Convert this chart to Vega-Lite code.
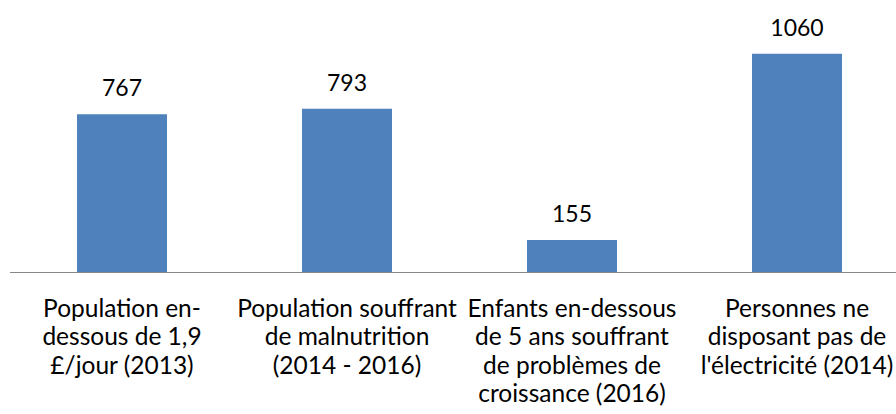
{
  "$schema": "https://vega.github.io/schema/vega-lite/v6.json",
  "autosize": "none",
  "width": 886,
  "height": 247,
  "padding": {"left": 9.5, "top": 25, "right": 0, "bottom": 142},
  "background": "white",
  "config": {"view": {"stroke": null}},
  "data": {
    "values": [
      {"categorie": "Population en-|dessous de 1,9|£/jour (2013)", "valeur": 767},
      {"categorie": "Population souffrant|de malnutrition|(2014 - 2016)", "valeur": 793},
      {"categorie": "Enfants en-dessous|de 5 ans souffrant|de problèmes de|croissance (2016)", "valeur": 155},
      {"categorie": "Personnes ne|disposant pas de|l'électricité (2014)", "valeur": 1060}
    ]
  },
  "encoding": {
    "x": {
      "field": "categorie",
      "type": "nominal",
      "sort": null,
      "scale": {"range": [0, 900], "paddingInner": 0.6, "paddingOuter": 0.3},
      "axis": {
        "title": null,
        "labelAngle": 0,
        "labelExpr": "split(datum.label, '|')",
        "labelFont": "Lato",
        "labelFontSize": 24.5,
        "labelColor": "#000000",
        "labelLineHeight": 28.5,
        "labelBaseline": "alphabetic",
        "labelPadding": 44,
        "labelLimit": 0,
        "ticks": false,
        "domainColor": "#888888",
        "domainWidth": 1.2
      }
    },
    "y": {
      "field": "valeur",
      "type": "quantitative",
      "scale": {"domain": [0, 1200], "nice": false},
      "axis": null
    }
  },
  "layer": [
    {"mark": {"type": "bar", "color": "#4F81BD"}},
    {
      "mark": {"type": "text", "baseline": "alphabetic", "dy": -18, "font": "Lato", "fontSize": 23, "color": "#000000"},
      "encoding": {"text": {"field": "valeur", "type": "quantitative"}}
    }
  ]
}
